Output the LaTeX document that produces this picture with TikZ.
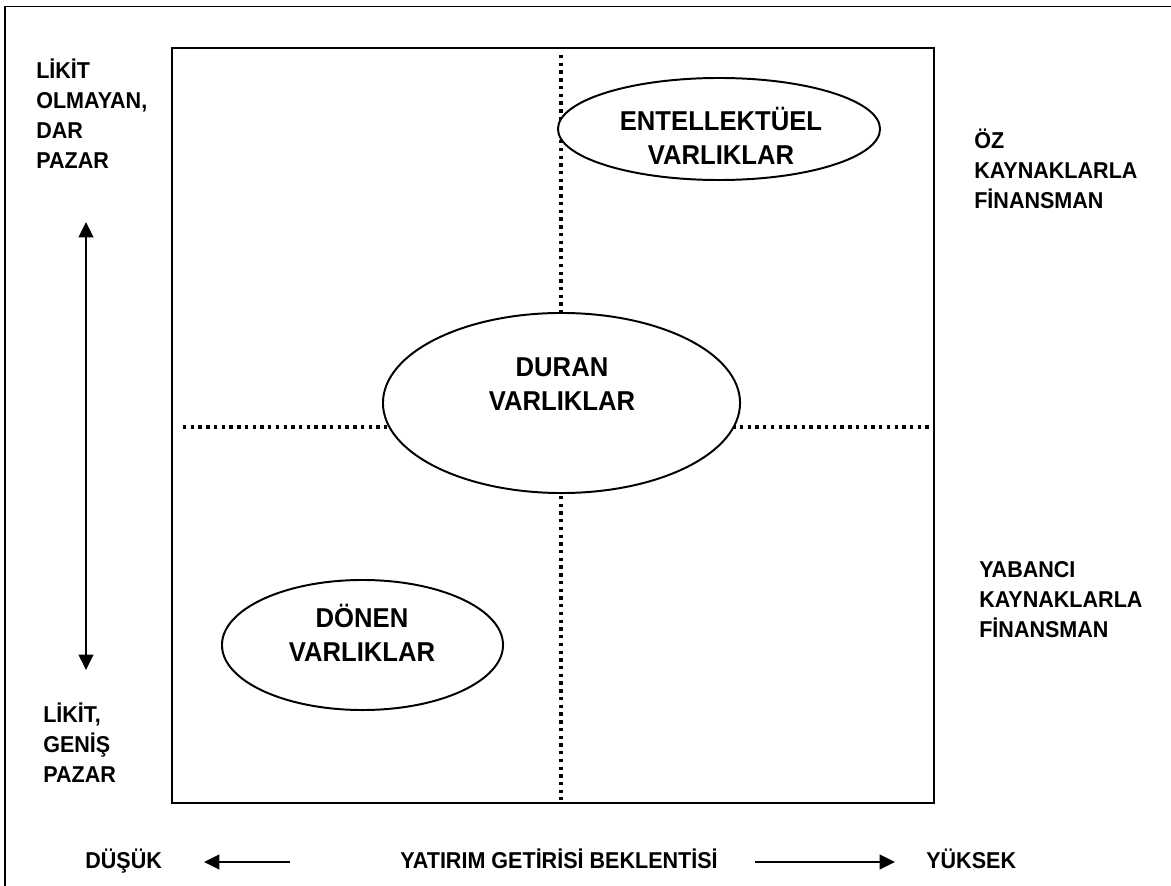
\documentclass[tikz,border=0pt]{standalone}
\usepackage{fontspec}
\setmainfont[FakeStretch=0.94]{Liberation Sans}
\usetikzlibrary{positioning}
\usetikzlibrary{shapes.geometric}
\usetikzlibrary{arrows.meta}
\colorlet{inkc}{black}

\tikzset{
  sidelbl/.style={font=\bfseries\fontsize{16.3}{21.3}\selectfont, align=left, inner sep=0pt, text=inkc},
  assetlbl/.style={font=\bfseries\fontsize{19.4}{24}\selectfont, align=center, inner sep=0pt, text=inkc},
  asset/.style={draw=inkc, ellipse, line width=1.4pt, fill=white, inner sep=0pt},
  quadline/.style={draw=inkc, line width=2.4pt, dash pattern=on 2.4pt off 3.1pt},
  axisarr/.style={draw=inkc, line width=1.4pt, -{Triangle[length=11pt,width=10.5pt]}}
}

\begin{document}
\begin{tikzpicture}[x=0.025cm,y=-0.025cm]
\useasboundingbox (0,0) rectangle (1171,886);

% scan frame
\draw[line width=0.9pt] (5,886) -- (5,6.5) -- (1171,6.5);

% quadrant box
\coordinate (boxnw) at (172,48);
\coordinate (boxse) at (934,803);
\draw[line width=1.8pt] (boxnw) rectangle (boxse);

% dotted axes
\coordinate (vtop) at (561,55);
\coordinate (vbot) at (561,800);
\coordinate (hleft) at (183,427);
\coordinate (hright) at (932,427);
\draw[quadline] (vtop) -- (vbot);
\draw[quadline] (hleft) -- (hright);

% assets
\node[asset, minimum width=8.925cm, minimum height=4.5cm] (duran) at (561.5,403) {};
\node[assetlbl] (durantxt) at (562,384) {DURAN\\VARLIKLAR};

\node[asset, minimum width=8.05cm, minimum height=2.55cm] (entel) at (719,129) {};
\node[assetlbl] (enteltxt) at (721,136) {ENTELLEKTÜEL\\VARLIKLAR};

\node[asset, minimum width=7.025cm, minimum height=3.25cm] (donen) at (362.5,645) {};
\node[assetlbl] (donentxt) at (362,633) {DÖNEN\\VARLIKLAR};

% left side: market
\node[sidelbl, anchor=north west] (dar) at (36,58.5) {LİKİT\\OLMAYAN,\\DAR\\PAZAR};
\node[sidelbl, anchor=north west] (genis) at (43,702.5) {LİKİT,\\GENİŞ\\PAZAR};
\coordinate (mid) at (86,446);
\coordinate (uptip) at (86,222);
\coordinate (downtip) at (86,670);
\draw[axisarr] (mid) -- (uptip);
\draw[axisarr] (mid) -- (downtip);

% right side: financing
\node[sidelbl, anchor=north west] (oz) at (974,128.5) {ÖZ\\KAYNAKLARLA\\FİNANSMAN};
\node[sidelbl, anchor=north west] (yabanci) at (979,561) {YABANCI\\KAYNAKLARLA\\FİNANSMAN};

% bottom: return
\node[sidelbl, anchor=base west] (dusuk) at (85,868) {DÜŞÜK};
\node[sidelbl, anchor=base east] (getiri) at (718,868) {YATIRIM GETİRİSİ BEKLENTİSİ};
\node[sidelbl, anchor=base west] (yuksek) at (926,868) {YÜKSEK};
\coordinate (lefttail) at (290,862);
\coordinate (lefttip) at (204,862);
\coordinate (righttail) at (755,862);
\coordinate (righttip) at (895,862);
\draw[axisarr] (lefttail) -- (lefttip);
\draw[axisarr] (righttail) -- (righttip);

\end{tikzpicture}
\end{document}
